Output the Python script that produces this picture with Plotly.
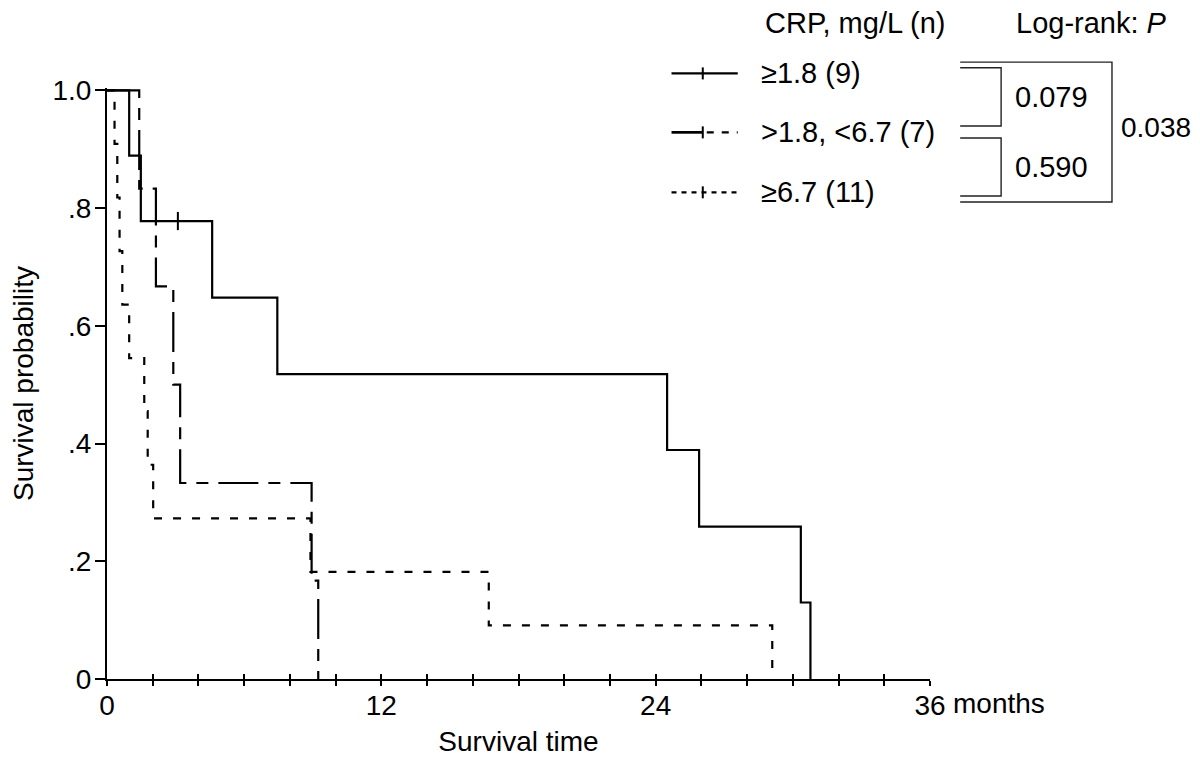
import plotly.graph_objects as go

# ---------------- data ----------------
# Group >=1.8 (n=9)
a_times = [0.97, 1.48, 4.6, 7.45, 24.5, 25.9, 30.35, 30.77]
a_surv = [0.889, 0.778, 0.648, 0.518, 0.389, 0.259, 0.130, 0.0]
a_cens_t = [3.1]
a_cens_s = [0.778]

# Group >1.8, <6.7 (n=7)
b_times = [1.41, 2.14, 2.9, 3.2, 8.95, 9.24]
b_surv = [0.833, 0.667, 0.5, 0.333, 0.167, 0.0]

# Group >=6.7 (n=11)
c_times = [0.33, 0.45, 0.55, 0.67, 0.97, 1.63, 1.78, 2.02, 8.9, 16.7, 29.1]
c_surv = [0.909, 0.818, 0.727, 0.636, 0.545, 0.455, 0.364, 0.273, 0.182, 0.091, 0.0]

legend_labels = ["≥1.8 (9)", ">1.8, <6.7 (7)", "≥6.7 (11)"]
p_pairs = ["0.079", "0.590"]
p_all = "0.038"

x_tickvals = list(range(0, 37, 2))
x_ticktext = [str(v) if v in (0, 12, 24, 36) else "" for v in x_tickvals]
y_tickvals = [0, 0.2, 0.4, 0.6, 0.8, 1.0]
y_ticktext = ["0", ".2", ".4", ".6", ".8", "1.0"]

# ---------------- layout geometry ----------------
# the page body has an 8px margin: work in screen pixels and shift
OFF = 8
W_FIG, H_FIG = 1200 - 2 * OFF, 765 - 2 * OFF
L, R_PX = 106.5 - OFF, 930.5 - OFF
B_PX, T_PX = 679.0 - OFF, 87.6 - OFF
PW, PH = R_PX - L, B_PX - T_PX

FONT = "Liberation Sans, Arial, Helvetica, sans-serif"
FS = 28
FS_LEG = 29
LW = 2.2


def px(xs):
    """screen x pixel -> paper coordinate"""
    return (xs - OFF - L) / PW


def py(ys):
    """screen y pixel -> paper coordinate"""
    return (B_PX - (ys - OFF)) / PH


DASH_B = "40px,10px,12px,10px"
DASH_C = "8px,11px"

fig = go.Figure()


def km(times, surv, dash):
    return go.Scatter(
        x=[0] + times, y=[1.0] + surv, mode="lines", line_shape="hv",
        line=dict(color="black", width=LW, dash=dash),
        showlegend=False, hoverinfo="skip",
    )


fig.add_trace(km(a_times, a_surv, "solid"))
fig.add_trace(km(b_times, b_surv, DASH_B))
fig.add_trace(km(c_times, c_surv, DASH_C))
fig.add_trace(go.Scatter(
    x=a_cens_t, y=a_cens_s, mode="markers", cliponaxis=False,
    marker=dict(symbol="line-ns-open", size=13, color="black",
                line=dict(color="black", width=2)),
    showlegend=False, hoverinfo="skip",
))
# helper trace so the overlay axis (inside ticks) is drawn
fig.add_trace(go.Scatter(x=[0], y=[0], xaxis="x2", yaxis="y", mode="markers",
                         marker=dict(opacity=0), showlegend=False, hoverinfo="skip"))

shapes = []
annotations = []

# ---- legend (drawn by hand) ----
rows_y = [73, 132, 192]
x0s, x1s, xt = 671.7, 738.0, 703.0
shapes.append(dict(type="line", xref="paper", yref="paper", x0=px(x0s), x1=px(x1s),
                   y0=py(rows_y[0]), y1=py(rows_y[0]), line=dict(color="black", width=LW)))
shapes.append(dict(type="line", xref="paper", yref="paper", x0=px(x0s), x1=px(xt),
                   y0=py(rows_y[1]), y1=py(rows_y[1]), line=dict(color="black", width=LW + 0.5)))
shapes.append(dict(type="line", xref="paper", yref="paper", x0=px(xt + 4), x1=px(x1s),
                   y0=py(rows_y[1]), y1=py(rows_y[1]), line=dict(color="black", width=LW, dash="7px,8px")))
shapes.append(dict(type="line", xref="paper", yref="paper", x0=px(x0s), x1=px(x1s),
                   y0=py(rows_y[2]), y1=py(rows_y[2]), line=dict(color="black", width=LW, dash="5px,5px")))
for ry in rows_y:
    shapes.append(dict(type="line", xref="paper", yref="paper", x0=px(xt), x1=px(xt),
                       y0=py(ry - 6), y1=py(ry + 6), line=dict(color="black", width=2)))
for lab, ry in zip(legend_labels, rows_y):
    annotations.append(dict(text=lab, xref="paper", yref="paper", x=px(759), y=py(ry),
                            xanchor="left", yanchor="middle", showarrow=False,
                            font=dict(family=FONT, size=FS_LEG, color="black")))

annotations.append(dict(text="CRP, mg/L (n)", xref="paper", yref="paper", x=px(763), y=py(23),
                        xanchor="left", yanchor="middle", showarrow=False,
                        font=dict(family=FONT, size=FS_LEG, color="black")))
annotations.append(dict(text="Log-rank: <i>P</i>", xref="paper", yref="paper", x=px(1015), y=py(23),
                        xanchor="left", yanchor="middle", showarrow=False,
                        font=dict(family=FONT, size=FS_LEG, color="black")))


# ---- brackets ----
def path(points):
    return "M " + " L ".join(f"{px(a):.5f},{py(b):.5f}" for a, b in points)


BR = dict(color="#222", width=1.4)
shapes.append(dict(type="path", xref="paper", yref="paper",
                   path=path([(960.7, 61.7), (1112.7, 61.7), (1112.7, 201.7), (960.7, 201.7)]), line=BR))
shapes.append(dict(type="path", xref="paper", yref="paper",
                   path=path([(960.7, 67.3), (1001.7, 67.3), (1001.7, 125.7), (960.7, 125.7)]), line=BR))
shapes.append(dict(type="path", xref="paper", yref="paper",
                   path=path([(960.7, 137.7), (1001.7, 137.7), (1001.7, 195.7), (960.7, 195.7)]), line=BR))

annotations.append(dict(text=p_pairs[0], xref="paper", yref="paper", x=px(1052), y=py(97),
                        xanchor="center", yanchor="middle", showarrow=False,
                        font=dict(family=FONT, size=FS_LEG, color="black")))
annotations.append(dict(text=p_pairs[1], xref="paper", yref="paper", x=px(1052), y=py(167),
                        xanchor="center", yanchor="middle", showarrow=False,
                        font=dict(family=FONT, size=FS_LEG, color="black")))
annotations.append(dict(text=p_all, xref="paper", yref="paper", x=px(1120), y=py(127),
                        xanchor="left", yanchor="middle", showarrow=False,
                        font=dict(family=FONT, size=FS, color="black")))

# "months" after the 36 tick label
annotations.append(dict(text="months", xref="x", yref="paper", x=36, y=py(704),
                        xanchor="left", yanchor="middle", xshift=21, showarrow=False,
                        font=dict(family=FONT, size=FS, color="black")))

fig.update_layout(
    width=W_FIG, height=H_FIG,
    margin=dict(l=L, r=W_FIG - R_PX, t=T_PX, b=H_FIG - B_PX, pad=0),
    paper_bgcolor="white", plot_bgcolor="white",
    font=dict(family=FONT, size=FS, color="black"),
    shapes=shapes, annotations=annotations,
    xaxis=dict(range=[0, 36], tickmode="array", tickvals=x_tickvals, ticktext=x_ticktext,
               ticks="outside", ticklen=5, tickwidth=2, tickcolor="black",
               ticklabelstandoff=-5,
               showline=True, linewidth=2, linecolor="black",
               showgrid=False, zeroline=False, automargin=False,
               tickfont=dict(family=FONT, size=FS, color="black"),
               title=dict(text="Survival time", standoff=14,
                          font=dict(family=FONT, size=FS, color="black"))),
    xaxis2=dict(range=[0, 36], overlaying="x", anchor="y", side="bottom",
                tickmode="array", tickvals=x_tickvals, ticks="inside", ticklen=5, tickwidth=2,
                tickcolor="black", showticklabels=False, showline=False, showgrid=False,
                zeroline=False, automargin=False),
    yaxis=dict(range=[0, 1.004], tickmode="array", tickvals=y_tickvals, ticktext=y_ticktext,
               ticks="outside", ticklen=10, tickwidth=2, tickcolor="black",
               ticklabelstandoff=-2,
               showline=True, linewidth=2, linecolor="black",
               showgrid=False, zeroline=False, automargin=False,
               tickfont=dict(family=FONT, size=FS, color="black"),
               title=dict(text="Survival probability", standoff=28,
                          font=dict(family=FONT, size=FS, color="black"))),
)

fig.write_html("out.html")
